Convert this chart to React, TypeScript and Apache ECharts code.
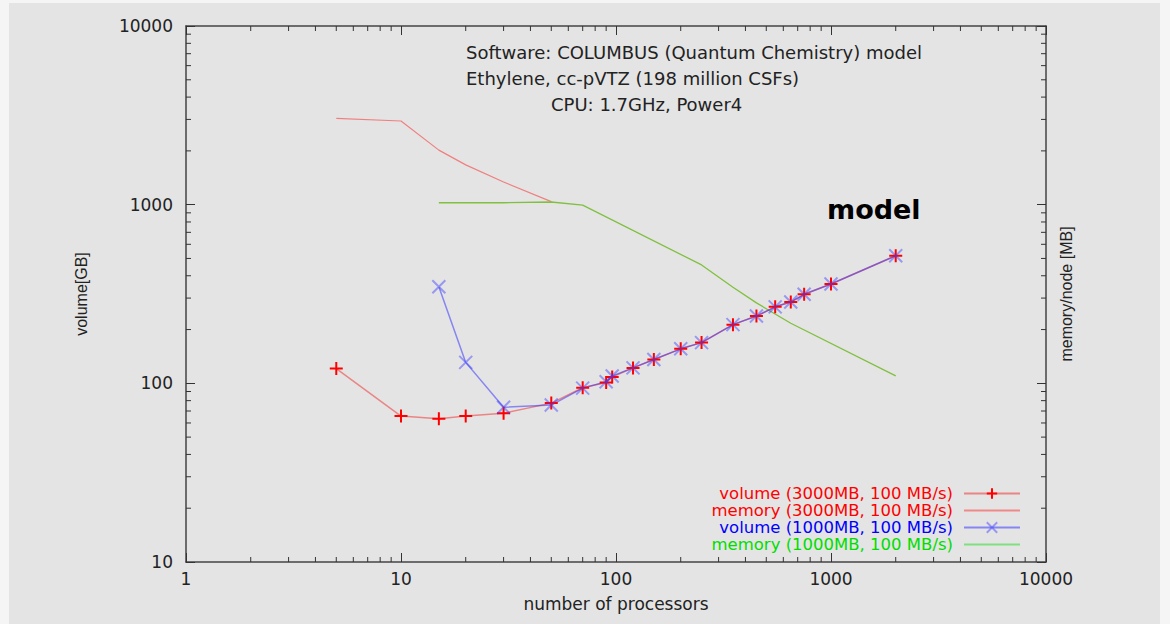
import React, { useEffect, useRef } from "react";
import * as echarts from "echarts";

// ---- data ----
const processors3000 = [5, 10, 15, 20, 30, 50, 70, 90, 96, 120, 150, 200, 250, 350, 450, 550, 650, 750, 1000, 2000];
const volume3000 = [121, 65.6, 63.4, 65.6, 68, 77.5, 94.5, 101, 108.5, 122, 136, 156, 169, 213, 238, 268, 285, 315, 360, 518];

const memProcessors3000 = [5, 10, 15, 20, 30, 50];
const memory3000 = [3040, 2940, 2020, 1670, 1340, 1040];

const processors1000 = [15, 20, 30, 50, 70, 90, 96, 120, 150, 200, 250, 350, 450, 550, 650, 750, 1000, 2000];
const volume1000 = [347, 131, 73.4, 75.6, 94, 102, 110, 122, 136, 156, 169, 213, 238, 268, 285, 315, 360, 518];

const memProcessors1000 = [15, 30, 50, 70, 250, 350, 450, 650, 2000];
const memory1000 = [1025, 1025, 1035, 995, 460, 345, 282, 217, 110];

const xTickLabels = ["1", "10", "100", "1000", "10000"];
const yTickLabels = ["10", "100", "1000", "10000"];
const minorMultipliers = [2, 3, 4, 5, 6, 7, 8, 9];
const xDecades = [1, 10, 100, 1000];
const yDecades = [10, 100, 1000];

const seriesNames = [
  "volume (3000MB, 100 MB/s)",
  "memory (3000MB, 100 MB/s)",
  "volume (1000MB, 100 MB/s)",
  "memory (1000MB, 100 MB/s)",
];
const legendTextColors = ["#ff0000", "#ff0000", "#0000ff", "#00dd00"];
const legendLineColors = ["rgba(240,70,70,0.6)", "#f08888", "rgba(40,40,255,0.5)", "#80e080"];
const legendHasSymbol = [true, false, true, false];

const titleLines = [
  "Software: COLUMBUS (Quantum Chemistry) model",
  "Ethylene, cc-pVTZ (198 million CSFs)",
  "CPU: 1.7GHz, Power4",
];

const HF = "'DejaVu Sans', 'Liberation Sans', sans-serif";
const VF = "'Liberation Sans', Arial, sans-serif";

const zip = (xs: number[], ys: number[]) => xs.map((x, i) => [x, ys[i]]);

export default function App() {
  const ref = useRef<HTMLDivElement>(null);

  useEffect(() => {
    if (!ref.current) return;
    const chart = echarts.init(ref.current, null, { renderer: "svg" });

    const minorData: number[][] = [];
    xDecades.forEach((d) => minorMultipliers.forEach((m) => minorData.push([d * m, 10, 0])));
    yDecades.forEach((d) => minorMultipliers.forEach((m) => minorData.push([1, d * m, 1])));

    const fmt = (labels: string[]) => (v: number) => {
      const s = String(Math.round(v));
      return labels.includes(s) ? s : "";
    };

    const axisLine = { show: true, lineStyle: { color: "#444", width: 1.5 } };
    const axisTick = { show: true, inside: true, length: 9, lineStyle: { color: "#333", width: 1 } };

    const plus = "path://M-7,0L7,0M0,-7L0,7";
    const cross = "path://M-7,-7L7,7M-7,7L7,-7";

    const option: any = {
      animation: false,
      backgroundColor: "#e4e4e4",
      grid: { left: 177, top: 23, width: 860, height: 536, containLabel: false },
      xAxis: [
        {
          type: "log",
          logBase: 10,
          min: 1,
          max: 10000,
          position: "bottom",
          axisLine,
          axisTick,
          splitLine: { show: false },
          axisLabel: { margin: 8, color: "#222", fontFamily: HF, fontSize: 17, formatter: fmt(xTickLabels) },
          name: "number of processors",
          nameLocation: "middle",
          nameGap: 33,
          nameTextStyle: { color: "#222", fontFamily: HF, fontSize: 17 },
        },
        {
          type: "log",
          logBase: 10,
          min: 1,
          max: 10000,
          position: "top",
          axisLine,
          axisTick,
          splitLine: { show: false },
          axisLabel: { show: false },
        },
      ],
      yAxis: [
        {
          type: "log",
          logBase: 10,
          min: 10,
          max: 10000,
          position: "left",
          axisLine,
          axisTick,
          splitLine: { show: false },
          axisLabel: { margin: 13, color: "#222", fontFamily: HF, fontSize: 17, formatter: fmt(yTickLabels) },
          name: "volume[GB]",
          nameLocation: "middle",
          nameRotate: 90,
          nameGap: 97,
          nameTextStyle: { color: "#222", fontFamily: VF, fontSize: 16 },
        },
        {
          type: "log",
          logBase: 10,
          min: 10,
          max: 10000,
          position: "right",
          axisLine,
          axisTick,
          splitLine: { show: false },
          axisLabel: { show: false },
          name: "memory/node [MB]",
          nameLocation: "middle",
          nameRotate: 90,
          nameGap: 12,
          nameTextStyle: { color: "#222", fontFamily: VF, fontSize: 16 },
        },
      ],
      legend: {
        orient: "vertical",
        right: 139,
        top: 482,
        padding: 0,
        align: "right",
        itemWidth: 56,
        itemHeight: 13,
        itemGap: 0,
        textStyle: { fontFamily: HF, fontSize: 16.5, lineHeight: 17, padding: [0, 6, 0, 0] },
        data: seriesNames.map((n, i) =>
          legendHasSymbol[i]
            ? { name: n, textStyle: { color: legendTextColors[i] }, lineStyle: { color: legendLineColors[i] } }
            : {
                name: n,
                textStyle: { color: legendTextColors[i] },
                lineStyle: { color: legendLineColors[i] },
                itemStyle: { color: "transparent", borderColor: "transparent", opacity: 0 },
              }
        ),
      },
      graphic: [
        {
          type: "text",
          left: 457,
          top: 40,
          style: { text: titleLines[0], fill: "#222", font: `18px ${HF}` },
        },
        {
          type: "text",
          left: 457,
          top: 66,
          style: { text: titleLines[1], fill: "#222", font: `18px ${HF}` },
        },
        {
          type: "text",
          left: 542,
          top: 92,
          style: { text: titleLines[2], fill: "#222", font: `18px ${HF}` },
        },
        {
          type: "text",
          left: 818,
          top: 193,
          style: { text: "model", fill: "#000", font: `bold 27px ${HF}` },
        },
      ],
      series: [
        {
          type: "custom",
          silent: true,
          clip: false,
          xAxisIndex: 0,
          yAxisIndex: 0,
          data: minorData,
          renderItem: (params: any, api: any) => {
            const cs = params.coordSys;
            const kind = api.value(2);
            const st = { stroke: "#333", lineWidth: 1 };
            if (kind === 0) {
              const p = api.coord([api.value(0), 10]);
              return {
                type: "group",
                children: [
                  { type: "line", shape: { x1: p[0], y1: cs.y + cs.height, x2: p[0], y2: cs.y + cs.height - 5 }, style: st },
                  { type: "line", shape: { x1: p[0], y1: cs.y, x2: p[0], y2: cs.y + 5 }, style: st },
                ],
              };
            }
            const p = api.coord([1, api.value(1)]);
            return {
              type: "group",
              children: [
                { type: "line", shape: { x1: cs.x, y1: p[1], x2: cs.x + 5, y2: p[1] }, style: st },
                { type: "line", shape: { x1: cs.x + cs.width, y1: p[1], x2: cs.x + cs.width - 5, y2: p[1] }, style: st },
              ],
            };
          },
        },
        {
          name: seriesNames[1],
          type: "line",
          data: zip(memProcessors3000, memory3000),
          showSymbol: false,
          symbol: "none",
          lineStyle: { color: "#f08080", width: 1.2 },
          itemStyle: { color: "#f08080" },
        },
        {
          name: seriesNames[3],
          type: "line",
          data: zip(memProcessors1000, memory1000),
          showSymbol: false,
          symbol: "none",
          lineStyle: { color: "#80c040", width: 1.3 },
          itemStyle: { color: "#80c040" },
        },
        {
          name: seriesNames[0],
          type: "line",
          data: zip(processors3000, volume3000),
          symbol: plus,
          symbolSize: 13,
          lineStyle: { color: "rgba(240,70,70,0.6)", width: 1.5 },
          itemStyle: { color: "#ff0000", borderColor: "#ff0000", borderWidth: 2 },
        },
        {
          name: seriesNames[2],
          type: "line",
          data: zip(processors1000, volume1000),
          symbol: cross,
          symbolSize: 13,
          lineStyle: { color: "rgba(40,40,255,0.5)", width: 1.5 },
          itemStyle: { color: "rgba(60,60,255,0.45)", borderColor: "rgba(60,60,255,0.45)", borderWidth: 2 },
        },
      ],
    };

    chart.setOption(option);
    return () => chart.dispose();
  }, []);

  return (
    <div style={{ position: "absolute", left: 0, top: 0, width: 1170, height: 624, background: "#f5f5f5", overflow: "hidden" }}>
      <div ref={ref} style={{ position: "absolute", left: 9, top: 3, width: 1151, height: 621 }} />
    </div>
  );
}
